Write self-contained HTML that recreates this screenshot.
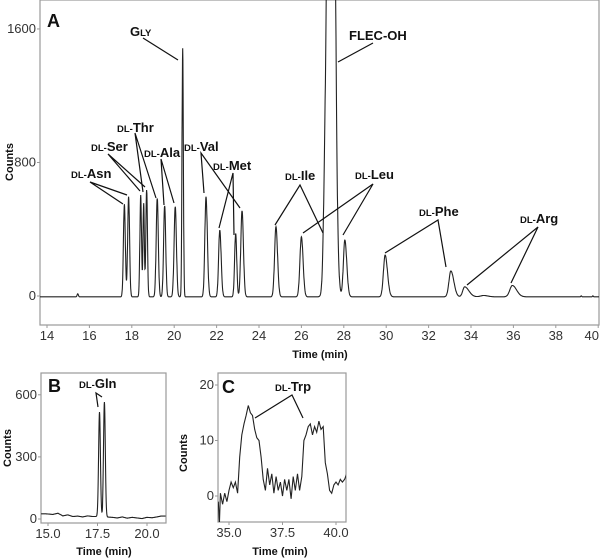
<!DOCTYPE html>
<html><head><meta charset="utf-8"><style>
html,body{margin:0;padding:0;background:#fff;width:602px;height:560px;overflow:hidden}
svg{font-family:"Liberation Sans",sans-serif}
.tk{font-size:13px;fill:#333}
.ax{font-size:11px;font-weight:bold;fill:#111}
.lb{font-size:13px;font-weight:bold;fill:#111}
.sm{font-size:9.5px}
.ld{stroke:#111;stroke-width:1.2;fill:none}
</style></head><body>
<svg id="s" width="602" height="560">
<g id="A"></g>
<g id="B"></g>
<g id="C"></g>
</svg>
<script>
// ---- Panel A data ----
const peakTimes = [15.45,17.65,17.85,18.42,18.56,18.7,19.2,19.55,20.05,20.4,21.5,22.15,22.9,23.2,24.8,26.0,27.1,27.4,28.05,29.95,33.05,33.7,34.6,35.95,39.2,39.75];
const peakHeights = [18,555,600,610,560,640,590,545,540,1490,600,400,380,515,420,360,380,6000,340,250,155,60,8,68,6,6];
const peakSigL = [0.03,0.045,0.045,0.038,0.032,0.038,0.05,0.05,0.055,0.032,0.055,0.055,0.05,0.06,0.065,0.07,0.07,0.14,0.07,0.08,0.09,0.09,0.15,0.12,0.02,0.02];
const peakSigR = [0.03,0.045,0.045,0.038,0.032,0.038,0.05,0.05,0.055,0.032,0.065,0.065,0.05,0.065,0.075,0.08,0.07,0.14,0.09,0.11,0.14,0.2,0.2,0.2,0.02,0.02];
const aYTicks = [0,800,1600];
const aXTicks = [14,16,18,20,22,24,26,28,30,32,34,36,38,40];
// ---- Panel B data ----
const bBaseTimes = [14.9,15.25,15.5,15.75,16.0,16.25,16.5,16.75,17.0,17.25,17.5,18.25,18.5,18.75,19.0,19.25,19.5,19.75,20.0,20.25,20.5,20.7];
const bBaseVals = [25,22,28,15,20,12,14,10,15,12,12,8,5,10,4,8,5,2,8,6,10,14];
const bPeakTimes = [17.6,17.85];
const bPeakHeights = [505,555];
const bYTicks = [0,300,600];
const bXTicks = [15.0,17.5,20.0];
// ---- Panel C data ----
const cTimes = [34.5,34.55,34.6,34.7,34.8,34.9,35.0,35.1,35.2,35.3,35.4,35.5,35.6,35.7,35.8,35.9,36.0,36.1,36.2,36.3,36.4,36.5,36.6,36.7,36.8,36.9,37.0,37.1,37.2,37.3,37.4,37.5,37.6,37.7,37.8,37.9,38.0,38.1,38.2,38.3,38.4,38.5,38.6,38.7,38.8,38.9,39.0,39.1,39.2,39.3,39.4,39.5,39.6,39.7,39.8,39.9,40.0,40.1,40.2,40.3,40.4,40.5];
const cVals = [-1,-5,0.5,-1.5,0.5,-1,1,2.5,1.5,2.5,0.5,7,11,13,14.5,16.3,15,14.5,12,10.5,10,7,3,1,5,2,4,0.5,3.5,1,2.5,0,3,1,3,-0.5,3.5,1,4,1,3.5,10,11,12.5,13,11,12.5,11.5,13.5,12,12.5,6,4,1,0.5,2,2.5,2,3,2.5,3,4];
const cYTicks = [0,10,20];
const cXTicks = [35.0,37.5,40.0];

const NS="http://www.w3.org/2000/svg";
function mk(p,t,a){const e=document.createElementNS(NS,t);for(const k in a)e.setAttribute(k,a[k]);p.appendChild(e);return e;}

function frame(g,box,xs,ys,xT,yT,fmtX,fmtY){
  const r=mk(g,'rect',{x:box.l,y:box.t,width:box.r-box.l,height:box.b-box.t,fill:'none',stroke:'#9a9a9a','stroke-width':1.2});
  
  
  xT.forEach(v=>{const x=xs(v);
    const l=mk(g,'line',{x1:x,x2:x,y1:box.b,y2:box.b+3,stroke:'#9a9a9a'});
    
    
    const anchor=(x+10>600)?'end':'middle';
    const t=mk(g,'text',{x:anchor==='end'?599:x,y:box.b+15,'text-anchor':anchor,class:'tk'});t.textContent=fmtX(v);
    
    
  });
  yT.forEach(v=>{const y=ys(v);
    const l=mk(g,'line',{x1:box.l-3,x2:box.l,y1:y,y2:y,stroke:'#9a9a9a'});
    
    
    const t=mk(g,'text',{x:box.l-4,y:y+4,'text-anchor':'end',class:'tk'});t.textContent=fmtY(v);
    
    
  });
}
function clipFor(g,id,box){const d=mk(g,'defs',{});const c=mk(d,'clipPath',{id:id});mk(c,'rect',{x:box.l,y:box.t,width:box.r-box.l,height:box.b-box.t});}
function label(g,x,y,pre,main,name,size){
  const t=mk(g,'text',{x:x,y:y,class:'lb'});
  if(size)t.setAttribute('style','font-size:'+size+'px');
  if(pre){const s=mk(t,'tspan',{class:'sm'});s.textContent=pre;}
  const m=mk(t,'tspan',{});m.textContent=main;
  
  
}
function leader(g,pts,name){const p=mk(g,'polyline',{points:pts,class:'ld'});
  
  }

// Panel A
(function(){
  const g=document.getElementById('A');
  const box={l:40,r:599,t:0,b:325};
  const xs=v=>47+(v-14)*21.2, ys=v=>296-v*0.1669;
  clipFor(g,'ca',box);
  frame(g,box,xs,ys,aXTicks,aYTicks,v=>v,v=>v);
  let d='';
  for(let t=13.66;t<=40.06;t+=0.01){
    let y=-5;
    for(let i=0;i<peakTimes.length;i++){const dt=t-peakTimes[i];const s=dt<0?peakSigL[i]:peakSigR[i];y+=peakHeights[i]*Math.exp(-dt*dt/(2*s*s));}
    d+=(d?'L':'M')+xs(t).toFixed(1)+' '+ys(y).toFixed(1);
  }
  const p=mk(g,'path',{d:d,fill:'none',stroke:'#222','stroke-width':1.1,'clip-path':'url(#ca)'});
  
  
  const t1=mk(g,'text',{x:320,y:358,'text-anchor':'middle',class:'ax'});t1.textContent='Time (min)';
  
  
  const t2=mk(g,'text',{x:0,y:0,'text-anchor':'middle',class:'ax',transform:'translate(13,162) rotate(-90)'});t2.textContent='Counts';
  
  
  label(g,47,27,'','A','panel-label-a',18);
  label(g,130,36,'','G','label-gly');
  const gl=g.lastChild;const sp=mk(gl,'tspan',{class:'sm'});sp.textContent='LY';
  label(g,349,40,'','FLEC-OH','label-flec-oh');
  label(g,117,132,'DL-','Thr','label-thr');
  label(g,91,151,'DL-','Ser','label-ser');
  label(g,144,157,'DL-','Ala','label-ala');
  label(g,184,151,'DL-','Val','label-val');
  label(g,213,170,'DL-','Met','label-met');
  label(g,71,178,'DL-','Asn','label-asn');
  label(g,285,180,'DL-','Ile','label-ile');
  label(g,355,179,'DL-','Leu','label-leu');
  label(g,419,216,'DL-','Phe','label-phe');
  label(g,520,223,'DL-','Arg','label-arg');
  leader(g,'143,38 178,60','leader-gly');
  leader(g,'373,43 338,62','leader-flec');
  leader(g,'123,204 90,182 127,195','leader-asn');
  leader(g,'140,191 108,154 145,187','leader-ser');
  leader(g,'143,192 135,133 156,198','leader-thr');
  leader(g,'164,205 161,159 174,203','leader-ala');
  leader(g,'204,193 201,153 240,208','leader-val');
  leader(g,'219,228 233,173 234,235','leader-met');
  leader(g,'275,225 300,185 323,233','leader-ile');
  leader(g,'303,233 373,184 343,235','leader-leu');
  leader(g,'385,253 438,220 446,267','leader-phe');
  leader(g,'467,285 538,227 511,283','leader-arg');
})();

// Panel B
(function(){
  const g=document.getElementById('B');
  const box={l:41,r:166,t:373,b:523};
  const xs=v=>48+(v-15)*19.8, ys=v=>519-v*0.207;
  clipFor(g,'cb',box);
  frame(g,box,xs,ys,bXTicks,bYTicks,v=>v.toFixed(1),v=>v);
  let d='';
  for(let t=14.65;t<=20.95;t+=0.01){
    let b=bBaseVals[0];
    for(let i=0;i<bBaseTimes.length-1;i++){if(t>=bBaseTimes[i]&&t<=bBaseTimes[i+1]){const f=(t-bBaseTimes[i])/(bBaseTimes[i+1]-bBaseTimes[i]);b=bBaseVals[i]+f*(bBaseVals[i+1]-bBaseVals[i]);}}
    if(t>bBaseTimes[bBaseTimes.length-1])b=bBaseVals[bBaseVals.length-1];
    let y=b;
    for(let i=0;i<bPeakTimes.length;i++){const dt=t-bPeakTimes[i];y+=bPeakHeights[i]*Math.exp(-dt*dt/(2*0.045*0.045));}
    d+=(d?'L':'M')+xs(t).toFixed(1)+' '+ys(y).toFixed(1);
  }
  const p=mk(g,'path',{d:d,fill:'none',stroke:'#222','stroke-width':1.1,'clip-path':'url(#cb)'});
  
  
  const t1=mk(g,'text',{x:104,y:555,'text-anchor':'middle',class:'ax'});t1.textContent='Time (min)';
  
  
  const t2=mk(g,'text',{x:0,y:0,'text-anchor':'middle',class:'ax',transform:'translate(11,448) rotate(-90)'});t2.textContent='Counts';
  
  
  label(g,48,392,'','B','panel-label-b',18);
  label(g,79,388,'DL-','Gln','label-gln');
  leader(g,'98,407 96,393 102,397','leader-gln');
})();

// Panel C
(function(){
  const g=document.getElementById('C');
  const box={l:218,r:346,t:373,b:522};
  const xs=v=>229+(v-35)*21.4, ys=v=>496-v*5.55;
  clipFor(g,'cc',box);
  frame(g,box,xs,ys,cXTicks,cYTicks,v=>v.toFixed(1),v=>v);
  let d='';
  cTimes.forEach((t,i)=>{d+=(i?'L':'M')+xs(t).toFixed(1)+' '+ys(cVals[i]).toFixed(1);});
  const p=mk(g,'path',{d:d,fill:'none',stroke:'#222','stroke-width':1.1,'clip-path':'url(#cc)'});
  
  
  const t1=mk(g,'text',{x:280,y:555,'text-anchor':'middle',class:'ax'});t1.textContent='Time (min)';
  
  
  const t2=mk(g,'text',{x:0,y:0,'text-anchor':'middle',class:'ax',transform:'translate(187,453) rotate(-90)'});t2.textContent='Counts';
  
  
  label(g,222,393,'','C','panel-label-c',18);
  label(g,275,391,'DL-','Trp','label-trp');
  leader(g,'255,418 292,395 303,418','leader-trp');
})();
</script>
</body></html>
